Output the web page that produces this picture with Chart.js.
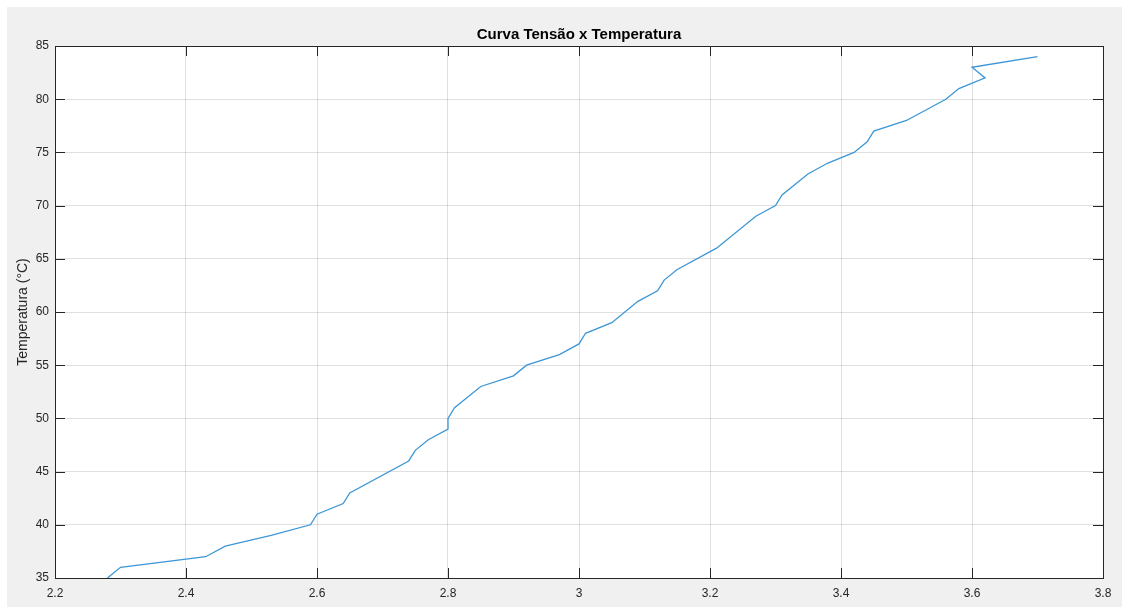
<!DOCTYPE html>
<html>
<head>
<meta charset="utf-8">
<script src="https://cdn.jsdelivr.net/npm/chart.js@4/dist/chart.umd.min.js"></script>
<style>
  html, body { margin: 0; padding: 0; background: #ffffff; }
  canvas { display: block; }
</style>
</head>
<body>
<canvas id="chart" width="1122" height="607"></canvas>
<script>
// Tensão (V) x Temperatura (°C)
const tensao = [2.28, 2.30, 2.43, 2.46, 2.53, 2.59, 2.60, 2.64, 2.65, 2.74, 2.75, 2.77, 2.80, 2.80, 2.81,
    2.85, 2.90, 2.92, 2.97, 3.00, 3.01, 3.05, 3.09, 3.12, 3.13, 3.15, 3.21, 3.27, 3.30, 3.31,
    3.35, 3.38, 3.42, 3.44, 3.45, 3.50, 3.56, 3.58, 3.62, 3.60, 3.70];
const temperatura = [35, 36, 37, 38, 39, 40, 41, 42, 43, 46, 47, 48, 49, 50, 51,
    53, 54, 55, 56, 57, 58, 59, 61, 62, 63, 64, 66, 69, 70, 71,
    73, 74, 75, 76, 77, 78, 80, 81, 82, 83, 84];

const xTicks = [2.2, 2.4, 2.6, 2.8, 3, 3.2, 3.4, 3.6, 3.8];
const yTicks = [35, 40, 45, 50, 55, 60, 65, 70, 75, 80, 85];

const titleText = 'Curva Tensão x Temperatura';
const yLabel = 'Temperatura (°C)';

const FONT = '"Liberation Sans", Arial, Helvetica, sans-serif';
const AXIS_COLOR = '#262626';

// background, white axes area, box and inward ticks (MATLAB look)
const matlabFrame = {
    id: 'matlabFrame',
    beforeDraw: function (chart) {
        const ctx = chart.ctx;
        const a = chart.chartArea;
        ctx.save();
        ctx.fillStyle = '#f0f0f0';
        ctx.fillRect(7, 7, chart.width - 7, chart.height - 7);
        ctx.fillStyle = '#ffffff';
        ctx.fillRect(a.left, a.top, a.right - a.left, a.bottom - a.top);
        ctx.restore();
    },
    afterDraw: function (chart) {
        const ctx = chart.ctx;
        const a = chart.chartArea;
        const xs = chart.scales.x;
        const ys = chart.scales.y;
        const len = 10;
        ctx.save();
        ctx.strokeStyle = AXIS_COLOR;
        ctx.lineWidth = 1;
        ctx.beginPath();
        xTicks.forEach(v => {
            const px = Math.round(xs.getPixelForValue(v)) + 0.5;
            ctx.moveTo(px, a.bottom);
            ctx.lineTo(px, a.bottom - len);
            ctx.moveTo(px, a.top);
            ctx.lineTo(px, a.top + len);
        });
        yTicks.forEach(v => {
            const py = Math.round(ys.getPixelForValue(v)) + 0.5;
            ctx.moveTo(a.left, py);
            ctx.lineTo(a.left + len, py);
            ctx.moveTo(a.right, py);
            ctx.lineTo(a.right - len, py);
        });
        ctx.stroke();
        ctx.strokeRect(Math.round(a.left) + 0.5, Math.round(a.top) + 0.5,
            Math.round(a.right - a.left), Math.round(a.bottom - a.top));

        // title centred over the axes
        ctx.fillStyle = '#000000';
        ctx.font = 'bold 15px ' + FONT;
        ctx.textAlign = 'center';
        ctx.textBaseline = 'middle';
        ctx.fillText(titleText, (a.left + a.right) / 2, 35);
        ctx.restore();
    }
};

const ctx = document.getElementById('chart').getContext('2d');

new Chart(ctx, {
    type: 'scatter',
    data: {
        datasets: [{
            label: 'Temperatura',
            data: tensao.map((v, i) => ({ x: v, y: temperatura[i] })),
            showLine: true,
            borderColor: '#3d97d6',
            backgroundColor: '#3d97d6',
            borderWidth: 1.3,
            pointRadius: 0,
            tension: 0
        }]
    },
    options: {
        responsive: false,
        animation: false,
        layout: {
            padding: { top: 46, right: 19, left: 0, bottom: 0 }
        },
        plugins: {
            legend: { display: false },
            title: { display: false },
            tooltip: { enabled: false }
        },
        scales: {
            x: {
                type: 'linear',
                min: 2.2,
                max: 3.8,
                afterBuildTicks: function (scale) {
                    scale.ticks = xTicks.map(v => ({ value: v }));
                },
                afterFit: function (scale) {
                    scale.height = 29;
                },
                border: { display: false },
                grid: {
                    color: 'rgba(0, 0, 0, 0.12)',
                    drawTicks: false
                },
                ticks: {
                    padding: 8,
                    color: AXIS_COLOR,
                    font: { family: FONT, size: 12 },
                    maxRotation: 0,
                    callback: function (value) {
                        return String(Number(value.toFixed(1)));
                    }
                }
            },
            y: {
                type: 'linear',
                min: 35,
                max: 85,
                afterBuildTicks: function (scale) {
                    scale.ticks = yTicks.map(v => ({ value: v }));
                },
                afterFit: function (scale) {
                    scale.width = 55;
                },
                border: { display: false },
                grid: {
                    color: 'rgba(0, 0, 0, 0.12)',
                    drawTicks: false
                },
                title: {
                    display: true,
                    text: yLabel,
                    color: AXIS_COLOR,
                    font: { family: FONT, size: 14 },
                    padding: { top: 15, bottom: 0 }
                },
                ticks: {
                    padding: 6,
                    color: AXIS_COLOR,
                    font: { family: FONT, size: 12 },
                    callback: function (value) {
                        return String(value);
                    }
                }
            }
        }
    },
    plugins: [matlabFrame]
});
</script>
</body>
</html>
